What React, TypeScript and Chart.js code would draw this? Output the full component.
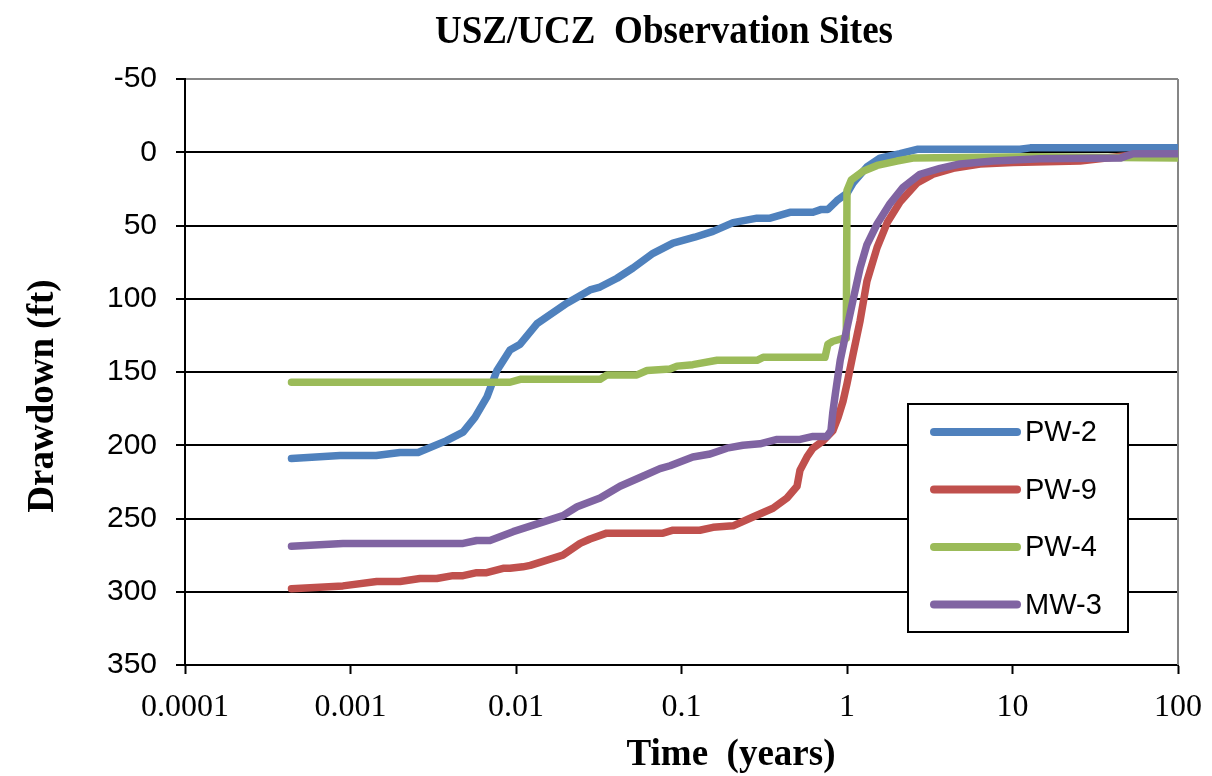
import React, { useEffect, useRef } from "react";
import { Chart, registerables } from "chart.js";

Chart.register(...registerables);

// ---- Text ----
const TITLE = "USZ/UCZ  Observation Sites";
const X_TITLE = "Time  (years)";
const Y_TITLE = "Drawdown (ft)";

// ---- Axes ----
const X_TICKS = [0.0001, 0.001, 0.01, 0.1, 1, 10, 100];
const X_TICK_LABELS = ["0.0001", "0.001", "0.01", "0.1", "1", "10", "100"];
const Y_MIN = -50;
const Y_MAX = 350;
const Y_STEP = 50;

// ---- Series ----
const SERIES_NAMES = ["PW-2", "PW-9", "PW-4", "MW-3"];
const SERIES_COLORS = ["#4F81BD", "#C0504D", "#9BBB59", "#8064A2"];

const PW2_TIME = [4.4e-4, 8.65e-4, 1.43e-3, 1.99e-3, 2.56e-3, 3.78e-3, 4.79e-3, 5.65e-3, 6.68e-3, 7.67e-3, 9.2e-3, 0.0106, 0.0134, 0.0203, 0.028, 0.0322, 0.0408, 0.0509, 0.0673, 0.0889, 0.12, 0.155, 0.205, 0.286, 0.343, 0.452, 0.623, 0.7, 0.767, 0.87, 1.0, 1.087, 1.32, 1.58, 2.09, 2.65, 11.1, 12.8, 100];
const PW2_DRAW = [209, 207, 207, 205, 205, 197, 191, 181, 167, 149, 135, 131, 117, 103, 94, 92, 86, 79, 69, 62, 58, 54, 48, 45, 45, 41, 41, 39, 39, 33, 28, 21, 10, 4, 1, -2, -2, -3, -3];

const PW9_TIME = [4.4e-4, 9.0e-4, 1.44e-3, 1.99e-3, 2.63e-3, 3.32e-3, 4.16e-3, 4.79e-3, 5.79e-3, 6.65e-3, 8.35e-3, 9.2e-3, 0.011, 0.0122, 0.0192, 0.0244, 0.028, 0.0353, 0.0773, 0.0889, 0.129, 0.155, 0.205, 0.27, 0.357, 0.434, 0.499, 0.52, 0.573, 0.623, 0.716, 0.822, 0.883, 0.946, 1.0, 1.087, 1.2, 1.32, 1.52, 1.75, 2.09, 2.65, 3.31, 4.37, 6.36, 10.07, 25.6, 51.3, 100];
const PW9_DRAW = [298, 296, 293, 293, 291, 291, 289, 289, 287, 287, 284, 284, 283, 282, 275, 267, 264, 260, 260, 258, 258, 256, 255, 249, 243, 236, 228, 217, 208, 202, 197, 190, 181, 170, 158, 138, 115, 88, 65, 48, 34, 21, 15, 11, 8, 7, 6, 2, 2];

const PW4_TIME = [4.4e-4, 9.2e-3, 0.0106, 0.0322, 0.0355, 0.0538, 0.0619, 0.0853, 0.094, 0.117, 0.164, 0.286, 0.311, 0.736, 0.767, 0.822, 0.946, 0.99, 1.0, 1.06, 1.25, 1.52, 2.0, 2.5, 13.3, 100];
const PW4_DRAW = [157, 157, 155, 155, 152, 152, 149, 148, 146, 145, 142, 142, 140, 140, 131, 129, 127, 127, 26, 19, 13, 9, 6, 4, 3, 4];

const MW3_TIME = [4.4e-4, 9.0e-4, 4.79e-3, 5.79e-3, 6.96e-3, 9.6e-3, 0.0192, 0.0234, 0.0322, 0.0425, 0.0561, 0.0741, 0.0853, 0.117, 0.149, 0.188, 0.235, 0.298, 0.378, 0.52, 0.623, 0.757, 0.8, 0.82, 0.85, 0.91, 1.0, 1.087, 1.2, 1.32, 1.52, 1.82, 2.18, 2.76, 3.65, 4.82, 7.63, 14.7, 44.7, 53.5, 100];
const MW3_DRAW = [269, 267, 267, 265, 265, 259, 248, 242, 236, 228, 222, 216, 214, 208, 206, 202, 200, 199, 196, 196, 194, 194, 190, 178, 165, 142, 120, 101, 79, 63, 49, 35, 24, 15, 11, 8, 6, 4.5, 4, 1, 1];

const SERIES_TIMES = [PW2_TIME, PW9_TIME, PW4_TIME, MW3_TIME];
const SERIES_DRAWS = [PW2_DRAW, PW9_DRAW, PW4_DRAW, MW3_DRAW];

const SERIF = "'Liberation Serif', 'Times New Roman', serif";
const SANS = "'Liberation Sans', Arial, sans-serif";

const decorPlugin = {
  id: "decor",
  beforeDatasetsDraw(chart: any) {
    const { ctx, chartArea: a } = chart;
    ctx.save();
    ctx.strokeStyle = "#868686";
    ctx.lineWidth = 2;
    ctx.beginPath();
    ctx.moveTo(a.right, a.top);
    ctx.lineTo(a.right, a.bottom);
    ctx.stroke();
    ctx.restore();
  },
  afterDraw(chart: any) {
    const { ctx, chartArea: a } = chart;
    ctx.save();
    ctx.fillStyle = "#000";
    // main title
    ctx.font = `bold 40px ${SERIF}`;
    ctx.textAlign = "center";
    ctx.textBaseline = "alphabetic";
    ctx.fillText(TITLE, 664, 43, 458);
    // x title
    ctx.font = `bold 37px ${SERIF}`;
    ctx.fillText(X_TITLE, 731, 765);
    // y title
    ctx.save();
    ctx.translate(53, 396);
    ctx.rotate(-Math.PI / 2);
    ctx.fillText(Y_TITLE, 0, 0);
    ctx.restore();

    // legend
    const lx = a.right - 270;
    const ly = a.top + 325;
    const lw = 220;
    const lh = 228;
    ctx.fillStyle = "#fff";
    ctx.fillRect(lx, ly, lw, lh);
    ctx.strokeStyle = "#000";
    ctx.lineWidth = 2;
    ctx.strokeRect(lx, ly, lw, lh);
    const ds = chart.data.datasets;
    ctx.font = `29px ${SANS}`;
    ctx.textAlign = "left";
    ctx.textBaseline = "middle";
    for (let i = 0; i < ds.length; i++) {
      const cy = ly + 28 + i * 57.5;
      ctx.strokeStyle = ds[i].borderColor;
      ctx.lineWidth = 8;
      ctx.lineCap = "round";
      ctx.beginPath();
      ctx.moveTo(lx + 26, cy);
      ctx.lineTo(lx + 109, cy);
      ctx.stroke();
      ctx.fillStyle = "#000";
      ctx.fillText(ds[i].label, lx + 117, cy + 1);
    }
    ctx.restore();
  },
};

export default function App() {
  const ref = useRef<HTMLCanvasElement>(null);
  useEffect(() => {
    if (!ref.current) return;
    const datasets = SERIES_NAMES.map((name, s) => ({
      label: name,
      data: SERIES_TIMES[s].map((t, i) => ({ x: t, y: SERIES_DRAWS[s][i] })),
      borderColor: SERIES_COLORS[s],
      backgroundColor: SERIES_COLORS[s],
      borderWidth: 7.5,
      borderCapStyle: "round" as const,
      borderJoinStyle: "round" as const,
      pointRadius: 0,
      pointHoverRadius: 0,
      showLine: true,
      fill: false,
      tension: 0,
      order: SERIES_NAMES.length - s,
    }));
    const chart = new Chart(ref.current, {
      type: "scatter",
      data: { datasets },
      options: {
        animation: false,
        responsive: false,
        maintainAspectRatio: false,
        events: [],
        layout: { padding: { left: 0, right: 34, top: 79, bottom: 0 } },
        plugins: {
          legend: { display: false },
          title: { display: false },
          tooltip: { enabled: false },
        },
        scales: {
          x: {
            type: "logarithmic",
            position: "bottom",
            min: 0.0001,
            max: 100,
            afterBuildTicks: (scale: any) => {
              scale.ticks = X_TICKS.map((v) => ({ value: v }));
            },
            afterFit: (scale: any) => {
              scale.height = 111;
              scale.paddingRight = 0;
              scale.paddingLeft = 0;
            },
            ticks: {
              autoSkip: false,
              maxRotation: 0,
              minRotation: 0,
              padding: 14,
              color: "#000",
              font: { family: SERIF, size: 32, lineHeight: 1.2 },
              callback: (_v: any, i: number) => X_TICK_LABELS[i],
            },
            grid: {
              display: true,
              drawOnChartArea: false,
              drawTicks: true,
              tickLength: 9,
              tickColor: "#000",
              tickWidth: 2,
            },
            border: { display: true, color: "#000", width: 2 },
          },
          y: {
            type: "linear",
            position: "left",
            reverse: true,
            min: Y_MIN,
            max: Y_MAX,
            afterFit: (scale: any) => {
              scale.width = 185;
            },
            ticks: {
              stepSize: Y_STEP,
              padding: 19,
              color: "#000",
              font: { family: SANS, size: 30, lineHeight: 1.2 },
            },
            grid: {
              display: true,
              drawOnChartArea: true,
              drawTicks: true,
              tickLength: 9,
              lineWidth: 2,
              color: (c: any) => (c.tick && c.tick.value === Y_MIN ? "#868686" : "#000"),
              tickColor: "#000",
              tickWidth: 2,
            },
            border: { display: true, color: "#000", width: 2 },
          },
        },
      },
      plugins: [decorPlugin],
    });
    return () => chart.destroy();
  }, []);

  return (
    <div style={{ position: "absolute", left: 0, top: 0, width: 1212, height: 776, background: "#fff" }}>
      <canvas ref={ref} width={1212} height={776} style={{ display: "block", width: 1212, height: 776 }} />
    </div>
  );
}
